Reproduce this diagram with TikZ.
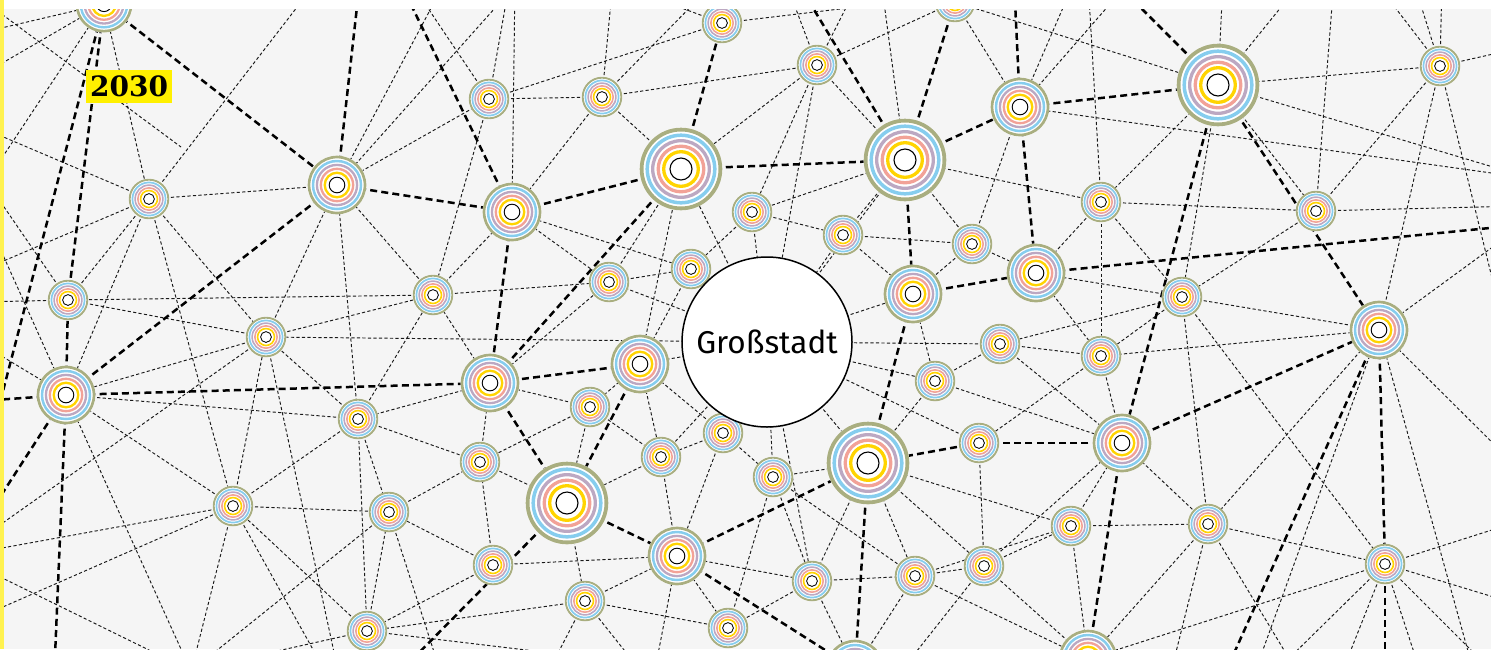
\documentclass[tikz,border=0pt]{standalone}
\usepackage{fontspec}
\newfontfamily\grossfont{Fira Sans}
\newfontfamily\yearfont{DejaVu Serif}
\definecolor{bgc}{HTML}{F5F5F5}
\definecolor{rolive}{HTML}{A9AE80}
\definecolor{rblue}{HTML}{86CDEE}
\definecolor{rmauve}{HTML}{BCA8C2}
\definecolor{rsalmon}{HTML}{F2A297}
\definecolor{ryellow}{HTML}{FFD400}
\definecolor{stripyellow}{HTML}{FFF250}
\definecolor{labelyellow}{HTML}{FFF000}
\tikzset{
 minor/.style={draw=black!90, line width=0.95pt, dash pattern=on 3.2pt off 2.3pt},
 major/.style={draw=black, line width=2.5pt, dash pattern=on 7pt off 4.2pt},
 pics/city/.style={code={
   \fill[white] (0,0) circle[radius=41.5pt*#1];
   \draw[rolive, line width=3.8pt*#1] (0,0) circle[radius=39.4pt*#1];
   \draw[rblue, line width=3.5pt*#1] (0,0) circle[radius=33.8pt*#1];
   \draw[rmauve, line width=3.3pt*#1] (0,0) circle[radius=28.3pt*#1];
   \draw[rsalmon, line width=3.3pt*#1] (0,0) circle[radius=22.8pt*#1];
   \draw[ryellow, line width=3.3pt*#1] (0,0) circle[radius=17.3pt*#1];
   \draw[black, line width=0.6pt+0.5pt*#1] (0,0) circle[radius=11pt*#1];
 }}
}
\def\citylist{na/104/4/0.69, nb/722/23/0.49, nc/955/2/0.49, nd/817/65/0.49, ne/489/99/0.49, nf/602/97/0.49,
ng/1020/107/0.71, nh/1218/85/1, ni/1440/66/0.49, nj/681/169/1, nk/905/160/1, nl/337/185/0.71,
nm/512/212/0.71, nn/149/199/0.49, no/1101/202/0.49, np/1316/211/0.49, nq/752/212/0.49, nr/843/235/0.49,
ns/972/244/0.49, nt/1036/273/0.71, nu/691/269/0.49, nv/609/282/0.49, nw/433/295/0.49, nx/68/300/0.49,
ny/913/294/0.71, nz/1182/297/0.49, naa/266/337/0.49, nab/1379/330/0.71, nac/1000/344/0.49, nad/1101/356/0.49,
nae/640/364/0.71, naf/490/383/0.71, nag/66/395/0.71, nah/935/381/0.49, nai/590/407/0.49, naj/358/419/0.49,
nak/723/433/0.49, nal/979/443/0.49, nam/1122/443/0.71, nan/868/463/1, nao/661/457/0.49, nap/480/462/0.49,
naq/773/477/0.49, nar/567/503/1, nas/233/506/0.49, nat/389/512/0.49, nau/1071/526/0.49, nav/1208/524/0.49,
naw/677/556/0.71, nax/493/565/0.49, nay/812/581/0.49, naz/915/576/0.49, nba/984/566/0.49, nbb/1385/564/0.49,
nbc/585/601/0.49, nbd/367/631/0.49, nbe/728/628/0.49, nbf/855/669/0.71, nbg/1088/659/0.71}
\def\offlist{oA1/-20/33, oA2/-20/76, oA3/-20/191, oN1/318/-20, oN2/-20/127, oN3/-20/271,
oL1/446/-20, oL2/520/-20, oE1/409/-20, oE2/510/-20, oM1/515/-20, oF1/717/-20, oF2/613/-20,
ob1/1000/-10, ob2/660/0, oD1/785/-20, oD2/860/-20, oK1/881/-20, oG1/1075/-20, oG2/1131/-20, oG3/1520/177,
oH1/1223/-20, oH2/1303/-20, oR2/1530/178, oI1/1442/-20, oI2/1413/-20, oI3/1374/-20, oI4/1520/48, oI5/1520/392,
oO1/1088/-20, oP1/1334/-20, oP2/1520/206, oAB1/1520/470, oAB2/1476/680, oAB3/1520/227, oAB4/1252/680,
oAW1/653/680, oBA1/894/680, oAV1/1169/680, oAV2/1302/680, oBB1/1520/521, oBB2/1520/605, oBB3/1267/680,
oBB4/1339/680, oBB5/1423/680, oBB6/1501/680, oBC1/544/680, oBC2/648/680, oBD1/147/680, oBD2/778/680,
oAS1/-20/552, oAS2/-20/617, oAS3/189/680, oAS4/330/680, oAT1/180/680, oAT2/443/680, oAA1/-20/539, oAA2/340/680,
oX1/-20/302, oX2/-20/172, oAG1/-20/343, oAG2/-20/204, oAG3/195/680, fr1/-20/567, fr2/210/680,
fr3/-20/-2, fr4/181/147,
t0/-15/460, t1/360/-20, t2/399/-20, t3/796/-20, t4/1014/-20, t5/1113/-20, tR1/1520/225, tB1/1385/680,
tB2/1222/680, tL1/-20/401, tL2/-20/528, tB3/54/680, tB4/392/680}
\begin{document}
\begin{tikzpicture}[x=1pt,y=-1pt]
\useasboundingbox (0,0) rectangle (1491,649);
\clip (0,0) rectangle (1491,649);
\fill[bgc] (0,0) rectangle (1491,649);
\foreach \nm/\px/\py/\sc in \citylist {\coordinate (\nm) at (\px,\py);}
\foreach \nm/\px/\py in \offlist {\coordinate (\nm) at (\px,\py);}
\coordinate (nG) at (767,342);
% thin connectors
\foreach \p/\q in {na/nn, na/oA1, na/oA2, na/oA3,
nn/nl, nn/oN1, nn/oN2, nn/oN3, nn/nx, nn/nas, nn/naa, nn/nag,
nl/oL1, nl/oL2, nl/ne, nl/naa, nl/naj, nl/nw,
ne/nw, ne/nf, ne/nb, ne/oE1, ne/oE2,
nm/oM1, nm/nf, nm/nw, nm/nu, nm/nv,
nf/nd, nf/nj, nf/oF1, nf/oF2,
nb/ob1, nb/ob2,
nd/nc, nd/nj, nd/nq, nd/nk, nd/nG, nd/oD1, nd/oD2,
nk/oK1, nk/nG, nk/nr, nk/nq, nk/no, nk/ns,
nc/ng, nc/nh,
nq/nr, nq/nu, nq/nG,
nr/ns, nr/nG, nr/ny,
ns/ny, ns/ng, ns/nt,
ng/oG1, ng/oG2, ng/oG3,
nh/ni, nh/oH1, nh/oH2, nh/oR2, nh/no, nh/np, nh/nz,
ni/oI1, ni/oI2, ni/oI3, ni/oI4, ni/np, ni/nab, ni/oI5,
no/oO1, no/np, no/nad, no/nt, no/nz,
np/oP1, np/oP2, np/nz,
nt/nz, nt/nad,
nz/nac, nz/nad, nz/nav, nz/nbb, nz/nab,
nab/nad, nab/nav, nab/oAB1, nab/oAB2, nab/oAB3, nab/oAB4,
nac/nG, nac/nah, nac/nad, nac/nam,
nad/nam, nad/nal,
nG/nj, nG/naa, nG/nae, nG/naq, nG/nay, nG/nan, nG/nal, nG/nah, nG/nv, nG/nu, nG/nak, nG/nao, nG/ny,
ny/nah, nah/nan, nah/nam, nal/nba,
nam/nba, nam/nau, nam/nav,
nan/nay, nan/nba, nan/naz, nan/naq, nan/nau,
nae/nj, nae/nu, nae/nai, nae/nak, nae/nao,
naf/naj, naf/nap, naf/nai, naf/nw, naf/nv,
nai/nar, nai/nap, nai/nao,
nak/nao, nak/naw, nak/naq,
nao/nar, nao/naw,
naq/nay, naq/nbe, naq/naz,
nar/nap, nar/nbc,
naw/nax, naw/nbc, naw/nbe, naw/nay, naw/oAW1,
nax/nat, nax/nap, nax/nbd,
nay/naz, nay/nbe, nay/nbf,
naz/nba, naz/nbf, naz/nau, naz/nbg,
nba/nau, nba/nbg, nba/oBA1,
nau/nbg, nau/nav,
nav/nbb, nav/nbg, nav/oAV1, nav/oAV2,
nbb/nbg, nbb/oBB1, nbb/oBB2, nbb/oBB3, nbb/oBB4, nbb/oBB5, nbb/oBB6,
nbc/nbe, nbc/nbd, nbc/oBC1, nbc/oBC2,
nbd/naj, nbd/nat, nbd/nas, nbd/oBD1, nbd/oBD2,
naj/nap, naj/nat, naj/nas, naj/naa, naj/nw, naj/nag,
nas/nat, nas/nag, nas/naa, nas/oAS1, nas/oAS2, nas/oAS3, nas/oAS4,
nat/nap, nat/oAT1, nat/oAT2,
naa/nw, naa/nag, naa/nx, naa/oAA1, naa/oAA2,
nw/nx, nw/nv,
nx/oX1, nx/oX2,
nag/oAG1, nag/oAG2, nag/oAG3,
nv/nu, nv/nj, fr1/fr2, fr3/fr4}
 {\draw[minor] (\p) -- (\q);}
% thick connectors
\foreach \p/\q in {na/nx, na/t0, na/nl, nl/t1, nm/t2, nl/nag, nl/nm, nj/nb, nj/nk, nj/nm, nj/naf,
nk/t3, nk/nc, nk/ng, nk/ny, ny/nt, ng/t4, ng/nh, ng/nt, nh/t5, nh/nam, nh/nab, nt/tR1,
nam/nab, nam/nal, nal/nan, nam/nbg, nab/nbb, nbb/tB1, nab/tB2, nag/tL1, nag/naf, nag/nx,
nag/tL2, nag/tB3, nm/naf, nae/naf, nae/nar, naf/nar, nar/naw, nar/tB4, naw/nan, nan/ny,
nan/nbf, naw/nbf}
 {\draw[major] (\p) -- (\q);}
% city nodes
\foreach \nm/\px/\py/\sc in \citylist {\pic at (\nm) {city=\sc};}
\node[circle, fill=white, draw=black, line width=1.5pt, minimum size=170pt, inner sep=0pt,
  font=\grossfont\fontsize{31.5}{31.5}\selectfont] (gross) at (nG) {Großstadt};
% frame strips
\fill[white] (0,0) rectangle (1491,9);
\fill[stripyellow] (0,0) rectangle (3.5,649);
\node[fill=labelyellow, inner sep=0pt, minimum width=86pt, minimum height=33pt,
  font=\yearfont\bfseries\fontsize{28}{28}\selectfont] (year) at (129,86.5) {2030};
\end{tikzpicture}
\end{document}
